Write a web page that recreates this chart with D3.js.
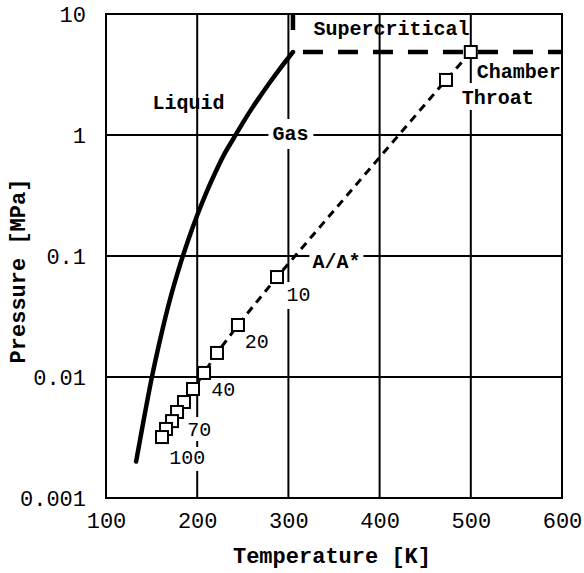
<!DOCTYPE html>
<html>
<head>
<meta charset="utf-8">
<script src="https://cdn.jsdelivr.net/npm/d3@7"></script>
<style>
html,body{margin:0;padding:0;background:#fff;}
svg{display:block;}
text{font-family:"Liberation Mono","Courier New",monospace;fill:#000;}
</style>
</head>
<body>
<svg id="chart" width="584" height="573"></svg>
<script>
// ---- data ----
const xTicks = [100, 200, 300, 400, 500, 600];
const yTicks = [0.001, 0.01, 0.1, 1, 10];
const yTickLabels = ["0.001", "0.01", "0.1", "1", "10"];

// saturation (vapor pressure) curve: temperature [K], pressure [MPa]
const satT = [133, 140, 150, 160, 170, 180, 190, 200, 210, 220, 230, 240, 250, 260, 270, 280, 290, 300, 305];
const satP = [0.0020, 0.0039, 0.0097, 0.0214, 0.0433, 0.0791, 0.1345, 0.217, 0.334, 0.492, 0.701, 0.94, 1.26, 1.66, 2.14, 2.74, 3.47, 4.35, 4.85];

// critical point
const critT = 305;
const critP = 4.85;
const chamberP = 4.85;

// nozzle expansion path: chamber, throat, A/A* = 10..100
const nozLabels = ["Chamber", "Throat", "10", "20", "30", "40", "50", "60", "70", "80", "90", "100"];
const nozT = [500, 472.8, 287.5, 244.7, 221.7, 207.5, 195.4, 185.5, 177.9, 172.4, 165.8, 161.4];
const nozP = [4.85, 2.85, 0.067, 0.0269, 0.0158, 0.0108, 0.00796, 0.00621, 0.00514, 0.00432, 0.00372, 0.00319];

// ---- layout ----
const W = 584, H = 573;
const m = {left: 106, right: 22, top: 14, bottom: 75};
const x = d3.scaleLinear().domain([100, 600]).range([m.left, W - m.right]);
const y = d3.scaleLog().domain([0.001, 10]).range([H - m.bottom, m.top]);

const svg = d3.select("#chart");

// grid
const g = svg.append("g");
g.selectAll("line.vx").data(xTicks).join("line")
  .attr("x1", d => x(d)).attr("x2", d => x(d))
  .attr("y1", y(0.001)).attr("y2", y(10))
  .attr("stroke", "#000").attr("stroke-width", 2);
g.selectAll("line.hy").data(yTicks).join("line")
  .attr("x1", x(100)).attr("x2", x(600))
  .attr("y1", d => y(d)).attr("y2", d => y(d))
  .attr("stroke", "#000").attr("stroke-width", 2);
g.append("rect")
  .attr("x", x(100)).attr("y", y(10))
  .attr("width", x(600) - x(100)).attr("height", y(0.001) - y(10))
  .attr("fill", "none").attr("stroke", "#000").attr("stroke-width", 2);

// axis tick labels via d3 axes
const xAxis = d3.axisBottom(x).tickValues(xTicks).tickSize(0).tickPadding(14).tickFormat(d3.format("d"));
const ax = svg.append("g").attr("transform", `translate(0,${y(0.001)})`).call(xAxis);
ax.select(".domain").remove();
ax.selectAll("text").attr("font-size", 22).attr("font-family", "Liberation Mono").attr("fill", "#000")
  .attr("dy", "0.71em");

const yAxis = d3.axisLeft(y).tickValues(yTicks).tickSize(0).tickPadding(20)
  .tickFormat((d, i) => yTickLabels[i]);
const ay = svg.append("g").attr("transform", `translate(${x(100)},0)`).call(yAxis);
ay.select(".domain").remove();
ay.selectAll("text").attr("font-size", 22).attr("font-family", "Liberation Mono").attr("fill", "#000");

// axis titles
svg.append("text")
  .attr("x", (x(100) + x(600)) / 2 - 2).attr("y", 563)
  .attr("text-anchor", "middle").attr("font-size", 22).attr("font-weight", "bold")
  .text("Temperature [K]");
svg.append("text")
  .attr("transform", `translate(25,${(y(0.001) + y(10)) / 2 + 15}) rotate(-90)`)
  .attr("text-anchor", "middle").attr("font-size", 22).attr("font-weight", "bold")
  .text("Pressure [MPa]");

// label backgrounds (break the grid lines)
const bgs = [
  [x(300) - 20, y(1) - 16, 45, 30],     // Gas
  [x(300) + 21, y(0.1) - 8, 54, 26],    // A/A*
  [x(300) - 5, y(0.1) + 26, 27, 27],    // 10
  [x(200) - 12, y(0.01) + 40, 26, 24],  // 70
  [x(200) - 28, y(0.01) + 70, 40, 24],  // 100
  [x(500) - 11, y(10) + 69, 75, 27]     // Throat
];
svg.append("g").selectAll("rect").data(bgs).join("rect")
  .attr("x", d => d[0]).attr("y", d => d[1]).attr("width", d => d[2]).attr("height", d => d[3])
  .attr("fill", "#fff");

// saturation curve
const satData = satT.map((t, i) => [t, satP[i]]);
svg.append("path")
  .datum(satData)
  .attr("d", d3.line().x(d => x(d[0])).y(d => y(d[1])).curve(d3.curveMonotoneX))
  .attr("fill", "none").attr("stroke", "#000").attr("stroke-width", 4.5)
  .attr("stroke-linecap", "round");

// critical lines (dashed)
svg.append("line")
  .attr("x1", x(critT)).attr("x2", x(critT))
  .attr("y1", y(10)).attr("y2", y(critP))
  .attr("stroke", "#000").attr("stroke-width", 4.5)
  .attr("stroke-dasharray", "16,40");
svg.append("line")
  .attr("x1", x(critT)).attr("x2", x(600))
  .attr("y1", y(chamberP)).attr("y2", y(chamberP))
  .attr("stroke", "#000").attr("stroke-width", 4.5)
  .attr("stroke-dasharray", "20,15").attr("stroke-dashoffset", 25);

// nozzle expansion path
const nozData = nozT.map((t, i) => [t, nozP[i], nozLabels[i]]);
svg.append("path")
  .datum(nozData)
  .attr("d", d3.line().x(d => x(d[0])).y(d => y(d[1])))
  .attr("fill", "none").attr("stroke", "#000").attr("stroke-width", 3)
  .attr("stroke-dasharray", "8,6");
svg.append("g").selectAll("rect").data(nozData).join("rect")
  .attr("x", d => x(d[0]) - 6).attr("y", d => y(d[1]) - 6)
  .attr("width", 12).attr("height", 12)
  .attr("fill", "#fff").attr("stroke", "#000").attr("stroke-width", 2);

// annotations
const ann = [
  {t: "Supercritical", x: x(300) + 25, y: y(10) + 21, b: true},
  {t: "Liquid", x: x(150) + 1, y: y(1) - 26, b: true},
  {t: "Gas", x: x(300) - 16, y: y(1) + 5, b: true},
  {t: "A/A*", x: x(300) + 24, y: y(0.1) + 12, b: true},
  {t: "Chamber", x: x(500) + 6, y: y(10) + 64, b: true},
  {t: "Throat", x: x(500) - 9, y: y(10) + 90, b: true},
  {t: "10", x: x(300) - 2, y: y(0.1) + 45, b: false},
  {t: "20", x: x(250) + 2, y: y(0.01) - 29, b: false},
  {t: "40", x: x(200) + 14, y: y(0.01) + 19, b: false},
  {t: "70", x: x(200) - 10, y: y(0.01) + 59, b: false},
  {t: "100", x: x(200) - 28, y: y(0.01) + 87, b: false}
];
svg.append("g").selectAll("text").data(ann).join("text")
  .attr("x", d => d.x).attr("y", d => d.y)
  .attr("font-size", 20).attr("font-weight", d => d.b ? "bold" : "normal")
  .text(d => d.t);
</script>
</body>
</html>
